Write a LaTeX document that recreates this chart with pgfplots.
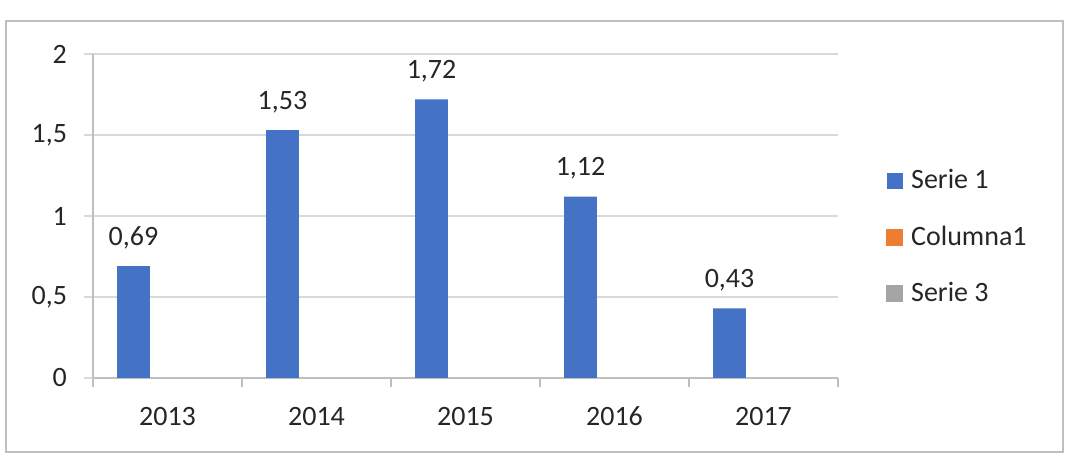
\documentclass[border=0pt]{standalone}
\usepackage{fontspec}
\setmainfont{Carlito}
\usepackage{pgfplots}
\pgfplotsset{compat=1.18}
\definecolor{s1}{HTML}{4472C4}
\definecolor{s2}{HTML}{ED7D31}
\definecolor{s3}{HTML}{A5A5A5}
\definecolor{gridc}{HTML}{D9D9D9}
\definecolor{axc}{HTML}{BFBFBF}
\definecolor{txt}{HTML}{262626}
\begin{document}
\begin{tikzpicture}[font=\fontsize{14}{17}\selectfont, text=txt]
\path[use as bounding box] (0,0) rectangle (543pt,227pt);
\draw[axc, line width=1pt] (3pt,1pt) rectangle (531.5pt,216.5pt);
\begin{axis}[
  at={(46.5pt,38pt)}, anchor=south west,
  scale only axis, width=372.5pt, height=162pt,
  xmin=-0.5, xmax=4.5, ymin=0, ymax=2,
  axis x line*=bottom, axis y line*=left,
  axis line style={-, axc, line width=0.6pt},
  xtick={0,1,2,3,4},
  xticklabels={2013,2014,2015,2016,2017},
  minor xtick={-0.5,0.5,1.5,2.5,3.5,4.5},
  major x tick style={draw=none},
  minor x tick style={axc, line width=0.6pt},
  minor tick length=4.5pt,
  ytick={0,0.5,1,1.5,2},
  ymajorgrids,
  grid style={gridc, line width=0.6pt},
  major y tick style={gridc, line width=0.6pt},
  major tick length=4.5pt,
  tick align=outside,
  /pgf/number format/.cd, use comma, assume math mode=true, /pgfplots/.cd,
  yticklabel style={xshift=-5pt},
  xticklabel style={yshift=-6.5pt},
  every tick label/.append style={font=\fontsize{14}{17}\selectfont, text=txt},
  legend style={draw=none, fill=none, inner sep=0pt, row sep=17pt, column sep=4pt,
    nodes={inner sep=0pt, text=txt, font=\fontsize{14}{17}\selectfont},
    at={(1.0644,0.435)}, anchor=west, legend cell align=left},
  legend columns=1,
]
\addplot[ybar, bar width=0.221, bar shift=0, fill=s1, draw=none,
  nodes near coords,
  nodes near coords style={font=\fontsize{14}{17}\selectfont, text=txt, yshift=5pt,
    /pgf/number format/.cd, fixed, fixed zerofill, precision=2, use comma, assume math mode=true},
  legend image code/.code={\fill[s1] (0pt,-4pt) rectangle (8pt,4pt);}]
  coordinates {(-0.228,0.69) (0.772,1.53) (1.772,1.72) (2.772,1.12) (3.772,0.43)};
\addlegendentry{Serie 1}
\addlegendimage{legend image code/.code={\fill[s2] (0pt,-4pt) rectangle (8pt,4pt);}}
\addlegendentry{Columna1}
\addlegendimage{legend image code/.code={\fill[s3] (0pt,-4pt) rectangle (8pt,4pt);}}
\addlegendentry{Serie 3}
\end{axis}
\end{tikzpicture}
\end{document}
